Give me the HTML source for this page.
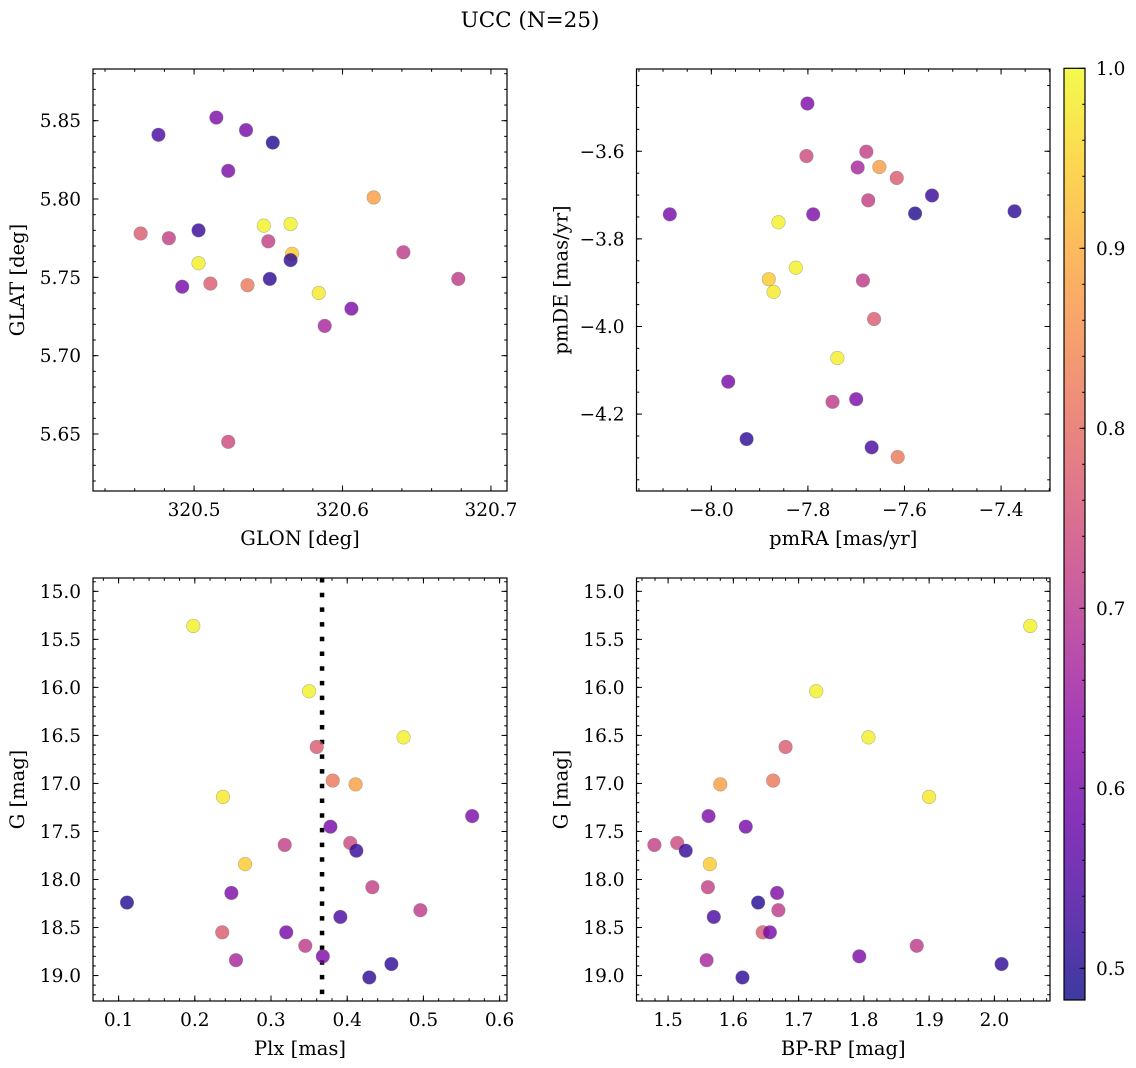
<!DOCTYPE html>
<html><head><meta charset="utf-8"><title>UCC (N=25)</title>
<style>
html,body{margin:0;padding:0;background:#fff;}
svg{display:block;font-family:"DejaVu Serif","Liberation Serif",serif;}
</style></head>
<body>
<svg id="fig" width="1136" height="1068" viewBox="0 0 1136 1068" xmlns="http://www.w3.org/2000/svg">
<rect width="1136" height="1068" fill="#fff"/>
<text x="530" y="27" font-size="21.5" text-anchor="middle">UCC (N=25)</text>
</svg>
<script>
// ---- data (one entry per star) ----
const prob = [0.99,0.99,0.985,0.98,0.94,0.88,0.82,0.77,0.77,0.74,0.72,0.72,0.71,0.71,0.67,0.61,0.60,0.61,0.60,0.61,0.54,0.52,0.50,0.51,0.51];
const plx  = [0.198,0.350,0.474,0.237,0.266,0.411,0.381,0.360,0.236,0.404,0.318,0.433,0.496,0.345,0.254,0.564,0.378,0.248,0.320,0.368,0.391,0.412,0.111,0.458,0.429];
const gmag = [15.36,16.04,16.52,17.14,17.84,17.01,16.97,16.62,18.55,17.62,17.64,18.08,18.32,18.69,18.84,17.34,17.45,18.14,18.55,18.80,18.39,17.70,18.24,18.88,19.02];
const bprp = [2.055,1.727,1.807,1.900,1.564,1.580,1.661,1.680,1.645,1.514,1.479,1.561,1.669,1.881,1.559,1.562,1.619,1.667,1.656,1.793,1.570,1.527,1.638,2.011,1.614];
const glon = [320.547,320.565,320.503,320.584,320.566,320.621,320.536,320.464,320.511,320.523,320.483,320.550,320.641,320.678,320.588,320.515,320.535,320.523,320.492,320.606,320.476,320.503,320.553,320.565,320.551];
const glat = [5.783,5.784,5.759,5.740,5.765,5.801,5.745,5.778,5.746,5.645,5.775,5.773,5.766,5.749,5.719,5.852,5.844,5.818,5.744,5.730,5.841,5.780,5.836,5.761,5.749];
const pmra = [-7.861,-7.825,-7.739,-7.871,-7.881,-7.652,-7.614,-7.616,-7.663,-7.803,-7.679,-7.675,-7.686,-7.749,-7.697,-7.801,-8.086,-7.789,-7.965,-7.700,-7.668,-7.543,-7.578,-7.372,-7.927];
const pmde = [-3.762,-3.866,-4.072,-3.921,-3.892,-3.636,-4.298,-3.661,-3.983,-3.611,-3.601,-3.712,-3.895,-4.172,-3.637,-3.491,-3.744,-3.744,-4.126,-4.166,-4.276,-3.701,-3.742,-3.737,-4.257];
const plxLine = 0.367;
const cbTicks = [0.5,0.6,0.7,0.8,0.9,1.0];

const NS = "http://www.w3.org/2000/svg";
const svg = document.getElementById('fig');
function mk(tag, attrs, parent){ const e=document.createElementNS(NS,tag); for(const k in attrs) e.setAttribute(k,attrs[k]); (parent||svg).appendChild(e); return e; }

const plasma = ["#0d0887","#41049d","#6a00a8","#8f0da4","#b12a90","#cc4778","#e16462","#f2844b","#fca636","#fcce25","#f0f921"];
function hex(h){return [parseInt(h.substr(1,2),16),parseInt(h.substr(3,2),16),parseInt(h.substr(5,2),16)];}
function cmap(t){ t=Math.max(0,Math.min(1,t)); const s=t*10, i=Math.min(9,Math.floor(s)), f=s-i; const a=hex(plasma[i]), b=hex(plasma[i+1]);
  return "rgb("+a.map((v,k)=>Math.round(v+(b[k]-v)*f)).join(",")+")"; }
const vmin=0.4824, vmax=1.0;
const TF=18.5, LF=19.5;

function fmtTick(v,dec){ const s=Math.abs(v).toFixed(dec); return (v<0?"\u2212":"")+s; }

function panel(p){
  const g=mk('g',{});
  
  
  const X=v=>p.x0+(v-p.xmin)/(p.xmax-p.xmin)*(p.x1-p.x0);
  const Y=v=> p.yinv ? p.y0+(v-p.ymin)/(p.ymax-p.ymin)*(p.y1-p.y0) : p.y1-(v-p.ymin)/(p.ymax-p.ymin)*(p.y1-p.y0);
  const tg=mk('g',{stroke:'#000','stroke-width':1},g);
  function ticksX(step,len,labels){
    const start=Math.ceil((p.xmin-1e-9)/step)*step;
    for(let v=start; v<=p.xmax+1e-9; v+=step){ const x=X(v);
      mk('line',{x1:x,x2:x,y1:p.y1,y2:p.y1-len},tg); mk('line',{x1:x,x2:x,y1:p.y0,y2:p.y0+len},tg);
      if(labels){ const t=mk('text',{x:x,y:p.y1+25,'font-size':TF,'text-anchor':'middle',stroke:'none',fill:'#000'},g); t.textContent=fmtTick(v,p.xdec);
          } }
  }
  function ticksY(step,len,labels){
    const start=Math.ceil((p.ymin-1e-9)/step)*step;
    for(let v=start; v<=p.ymax+1e-9; v+=step){ const y=Y(v);
      mk('line',{x1:p.x0,x2:p.x0+len,y1:y,y2:y},tg); mk('line',{x1:p.x1,x2:p.x1-len,y1:y,y2:y},tg);
      if(labels){ const t=mk('text',{x:p.x0-12,y:y+6.5,'font-size':TF,'text-anchor':'end',stroke:'none',fill:'#000'},g); t.textContent=fmtTick(v,p.ydec);
          } }
  }
  ticksX(p.xminor,2.8,false); ticksX(p.xmajor,5.5,true);
  ticksY(p.yminor,2.8,false); ticksY(p.ymajor,5.5,true);
  if(p.vline!==undefined){ const l=mk('line',{x1:X(p.vline),x2:X(p.vline),y1:p.y0,y2:p.y1,stroke:'#000','stroke-width':4.5,'stroke-dasharray':'4.5,10.2'},g);
      }
  for(let i=0;i<p.xs.length;i++){
    const c=mk('circle',{cx:X(p.xs[i]),cy:Y(p.ys[i]),r:6.8,fill:cmap((prob[i]-vmin)/(vmax-vmin)),'fill-opacity':0.8,stroke:'#777','stroke-opacity':0.5,'stroke-width':0.6},g);
    
    
  }
  mk('rect',{x:p.x0,y:p.y0,width:p.x1-p.x0,height:p.y1-p.y0,fill:'none',stroke:'#000','stroke-width':1.2},g);
  const xl=mk('text',{x:(p.x0+p.x1)/2,y:p.y1+54,'font-size':LF,'text-anchor':'middle'},g); xl.textContent=p.xlabel;
   
  const yx=p.x0-69, yc=(p.y0+p.y1)/2;
  const yl=mk('text',{x:yx,y:yc,'font-size':LF,'text-anchor':'middle',transform:'rotate(-90 '+yx+' '+yc+')'},g); yl.textContent=p.ylabel;
   
}

panel({name:'glon-glat-panel',x0:93,x1:507,y0:69,y1:491,xmin:320.4319,xmax:320.7108,ymin:5.6136,ymax:5.883,xmajor:0.1,xminor:0.02,ymajor:0.05,yminor:0.01,xdec:1,ydec:2,xs:glon,ys:glat,xlabel:'GLON [deg]',ylabel:'GLAT [deg]'});
panel({name:'pm-panel',x0:636.5,x1:1050,y0:69,y1:491,xmin:-8.155,xmax:-7.2986,ymin:-4.3756,ymax:-3.4122,xmajor:0.2,xminor:0.05,ymajor:0.2,yminor:0.05,xdec:1,ydec:1,xs:pmra,ys:pmde,xlabel:'pmRA [mas/yr]',ylabel:'pmDE [mas/yr]'});
panel({name:'plx-g-panel',x0:93,x1:507,y0:578,y1:1001,xmin:0.0664,xmax:0.6097,ymin:14.861,ymax:19.265,yinv:true,xmajor:0.1,xminor:0.02,ymajor:0.5,yminor:0.1,xdec:1,ydec:1,xs:plx,ys:gmag,vline:plxLine,xlabel:'Plx [mas]',ylabel:'G [mag]'});
panel({name:'cmd-panel',x0:636.5,x1:1050,y0:578,y1:1001,xmin:1.4516,xmax:2.0852,ymin:14.861,ymax:19.265,yinv:true,xmajor:0.1,xminor:0.02,ymajor:0.5,yminor:0.1,xdec:1,ydec:1,xs:bprp,ys:gmag,xlabel:'BP-RP [mag]',ylabel:'G [mag]'});

// colorbar
const cb=mk('g',{});


const defs=mk('defs',{},cb);
const lg=mk('linearGradient',{id:'cbg',x1:0,y1:1,x2:0,y2:0},defs);
for(let k=0;k<=20;k++){ const t=k/20; mk('stop',{offset:t,'stop-color':cmap(t)},lg); }
const cbx0=1064, cbx1=1085, cby0=68.3, cby1=1000;
mk('rect',{x:cbx0,y:cby0,width:cbx1-cbx0,height:cby1-cby0,fill:'url(#cbg)','fill-opacity':0.8},cb);
const CY=v=>cby1-(v-vmin)/(vmax-vmin)*(cby1-cby0);
for(let v=0.5; v<=1.0001; v+=0.02){ mk('line',{x1:cbx1,x2:cbx1-2.8,y1:CY(v),y2:CY(v),stroke:'#000'},cb); }
cbTicks.forEach(v=>{ const y=CY(v); mk('line',{x1:cbx1,x2:cbx1-5.5,y1:y,y2:y,stroke:'#000'},cb);
  const t=mk('text',{x:cbx1+11,y:y+6.5,'font-size':TF},cb); t.textContent=v.toFixed(1);
    });
mk('rect',{x:cbx0,y:cby0,width:cbx1-cbx0,height:cby1-cby0,fill:'none',stroke:'#000','stroke-width':1.2},cb);
</script>
</body></html>
